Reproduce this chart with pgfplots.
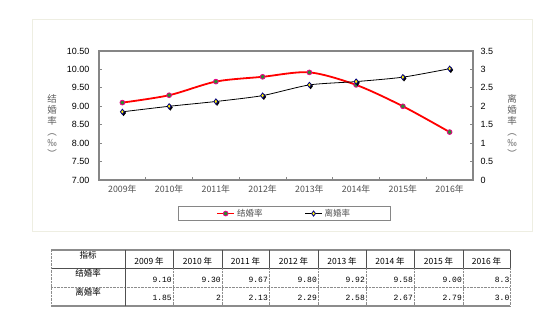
\documentclass[border=0pt]{standalone}
\usepackage{pgfplots}
\pgfplotsset{compat=1.18}
\usepackage{fontspec}
\setmainfont{Liberation Sans}
\newfontfamily\cjk{Noto Sans CJK SC}
\newfontfamily\mono{Liberation Mono}
\definecolor{axgrey}{HTML}{868686}
\definecolor{framec}{HTML}{EEEEE2}
\definecolor{mkgreen}{HTML}{2E8B2E}
\definecolor{navy}{HTML}{000080}
\definecolor{tgrey}{HTML}{8C8C8C}
\definecolor{tdark}{HTML}{505050}
\definecolor{lbl}{HTML}{606060}
\begin{document}
\begin{tikzpicture}[x=1pt,y=1pt]
\useasboundingbox (0,0) rectangle (559,326);
\fill[white] (0,0) rectangle (559,326);
\draw[framec, line width=0.8pt] (32,95) rectangle (532,307);

\begin{axis}[at={(99pt,146pt)}, anchor=south west, width=374pt, height=129pt, scale only axis,
  xmin=-0.5, xmax=7.5, ymin=7, ymax=10.5,
  xtick={0,...,7},
  xticklabels={2009年,2010年,2011年,2012年,2013年,2014年,2015年,2016年},
  minor xtick={0.5,1.5,...,6.5},
  xtick pos=bottom, ytick pos=left,
  major x tick style={draw=none},
  minor tick length=3pt, major tick length=3pt, tick align=inside,
  tick style={axgrey, line width=0.8pt},
  ytick={7,7.5,...,10.5},
  yticklabel style={/pgf/number format/fixed, /pgf/number format/fixed zerofill, /pgf/number format/precision=2},
  /pgf/number format/assume math mode=true,
  yticklabel style={font=\fontsize{9}{10}\selectfont, xshift=-6pt},
  xticklabel style={font=\cjk\fontsize{8.8}{10}\selectfont, text=tdark, yshift=-2pt},
  axis line style={axgrey, line width=1.2pt},
  legend style={at={(0.495,-0.2016)}, anchor=north, legend columns=2, draw=axgrey, line width=0.8pt,
    font=\cjk\fontsize{8.5}{9}\selectfont, text=tdark, inner xsep=38pt, inner ysep=0.8pt,
    /tikz/every even column/.append style={column sep=40pt}},
  legend cell align=left,
]
\addplot[red, line width=1.8pt, smooth, tension=0.5, mark=*, mark size=2.4pt,
  mark options={draw=magenta, fill=mkgreen, line width=0.8pt}]
  coordinates {(0,9.10) (1,9.30) (2,9.67) (3,9.80) (4,9.92) (5,9.58) (6,9.00) (7,8.30)};
\addlegendentry{结婚率}
\addlegendimage{black, line width=0.8pt, mark=diamond*, mark size=2.6pt, mark options={draw=navy, fill=yellow, line width=0.8pt}}
\addlegendentry{离婚率}
\end{axis}

\begin{axis}[at={(99pt,146pt)}, anchor=south west, width=374pt, height=129pt, scale only axis,
  xmin=-0.5, xmax=7.5, ymin=0, ymax=3.5,
  axis x line=none, axis y line*=right,
  ytick={0,0.5,...,3.5},
  yticklabels={0,0.5,1,1.5,2,2.5,3,3.5},
  yticklabel style={font=\fontsize{9}{10}\selectfont, xshift=4pt},
  major tick length=3pt, tick align=inside,
  tick style={axgrey, line width=0.8pt},
  axis line style={axgrey, line width=1.2pt},
]
\addplot[forget plot, draw=none, mark=diamond*, mark size=2.8pt,
  mark options={draw=black, fill=black, xshift=1.2pt, yshift=-1.2pt}]
  coordinates {(0,1.85) (1,2.00) (2,2.13) (3,2.29) (4,2.58) (5,2.67) (6,2.79) (7,3.02)};
\addplot[black, line width=0.8pt, smooth, tension=0.4, mark=diamond*, mark size=2.6pt,
  mark options={draw=navy, fill=yellow, line width=0.8pt}]
  coordinates {(0,1.85) (1,2.00) (2,2.13) (3,2.29) (4,2.58) (5,2.67) (6,2.79) (7,3.02)};
\end{axis}

% axis titles (vertical)
\node[text=lbl, font=\cjk\fontsize{9.5}{11}\selectfont, align=center, inner sep=0pt] at (52,200)
  {结\\婚\\率\\︵\\‰\\︶};
\node[text=lbl, font=\cjk\fontsize{9.5}{11}\selectfont, align=center, inner sep=0pt] at (512,200)
  {离\\婚\\率\\︵\\‰\\︶};

% table lines
\draw[tgrey, line width=1.5pt] (51,76) -- (510,76);
\draw[tgrey, line width=2pt] (51,20) -- (510,20);
\draw[tdark, line width=0.6pt] (51,58) -- (510,58);
\draw[tgrey, line width=0.4pt, densely dotted] (51,39) -- (510,39);
\draw[tgrey, line width=0.4pt, densely dotted] (51,76) -- (51,20);
\draw[tdark, line width=1pt] (125,76) -- (125,20);
\foreach \xx in {173,222,269,318,366,414,463} {
  \draw[tdark, line width=0.6pt] (\xx,76) -- (\xx,58);
  \draw[tgrey, line width=0.4pt, densely dotted] (\xx,58) -- (\xx,20);
}
\draw[tdark, line width=0.6pt] (510,76) -- (510,58);
\draw[tgrey, line width=0.4pt, densely dotted] (510,58) -- (510,20);

% table text
\begin{scope}[every node/.style={font=\cjk\fontsize{8.5}{10}\selectfont, text=black, inner sep=0pt}]
\node at (88,71) {指标};
\node at (88,53) {结婚率};
\node at (88,34) {离婚率};
\node at (149,65) {2009 年};
\node at (197.5,65) {2010 年};
\node at (245.5,65) {2011 年};
\node at (293.5,65) {2012 年};
\node at (342,65) {2013 年};
\node at (390,65) {2014 年};
\node at (438.5,65) {2015 年};
\node at (486.5,65) {2016 年};
\end{scope}
\begin{scope}[every node/.style={font=\mono\fontsize{8}{10}\selectfont, text=black, inner sep=0pt, anchor=east}]
\node at (172,46) {9.10};
\node at (221,46) {9.30};
\node at (268,46) {9.67};
\node at (317,46) {9.80};
\node at (365,46) {9.92};
\node at (413,46) {9.58};
\node at (462,46) {9.00};
\node at (509.5,46) {8.3};
\node at (172,28) {1.85};
\node at (221,28) {2};
\node at (268,28) {2.13};
\node at (317,28) {2.29};
\node at (365,28) {2.58};
\node at (413,28) {2.67};
\node at (462,28) {2.79};
\node at (509.5,28) {3.0};
\end{scope}
\end{tikzpicture}
\end{document}
